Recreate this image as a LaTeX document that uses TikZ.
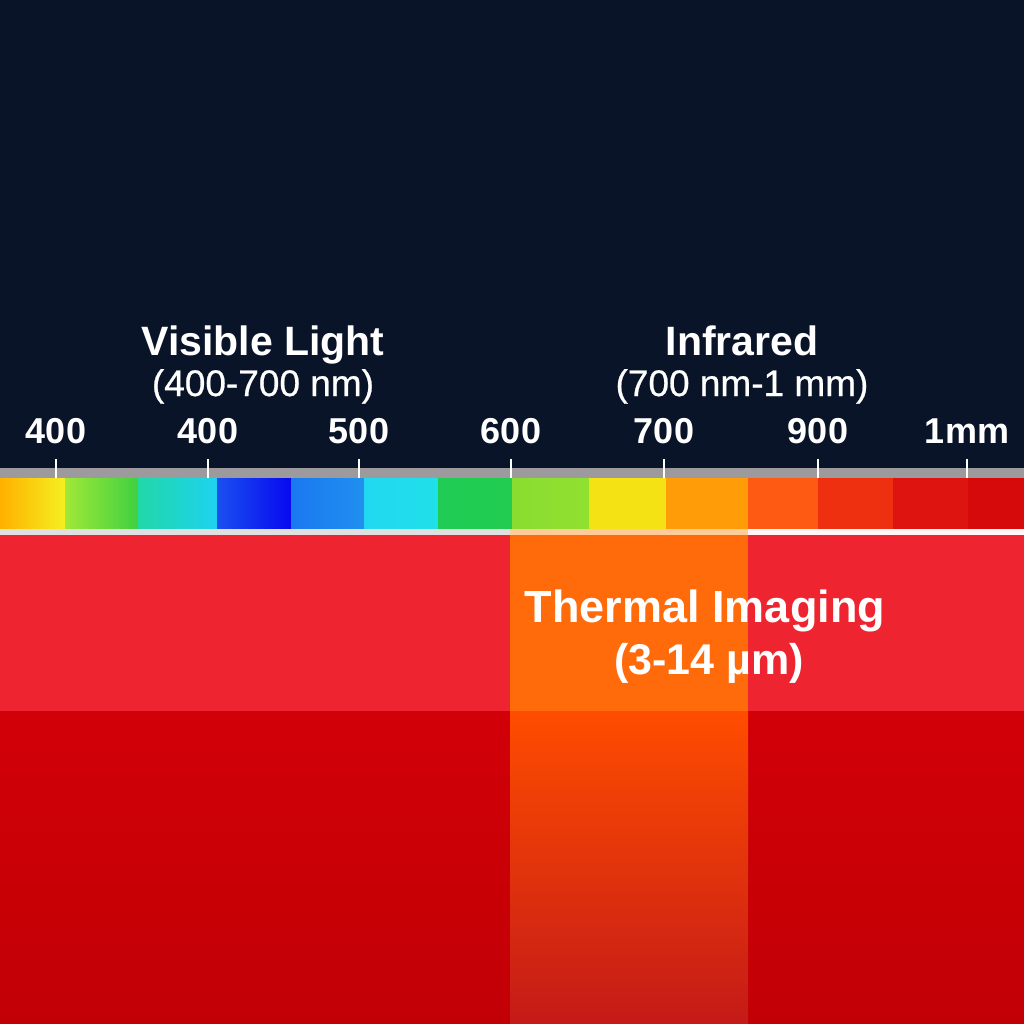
\documentclass[tikz,border=0pt]{standalone}
\usepackage{fontspec}
\setmainfont{Liberation Sans}
\newfontfamily\medfont{Liberation Sans}[FakeBold=0.7]
\definecolor{navy}{HTML}{0A1428}
\definecolor{railgray}{HTML}{9C9A9C}
\definecolor{bandred}{HTML}{EE2530}
\definecolor{deepred}{HTML}{D20008}
\definecolor{deepredlow}{HTML}{C10005}
\definecolor{thermorange}{HTML}{FF6A0A}
\definecolor{thermlow}{HTML}{C41A18}
\begin{document}
\begin{tikzpicture}[x=0.5pt,y=-0.5pt,
    ticklabel/.style={text=white,inner sep=0,font=\bfseries\fontsize{18}{20}\selectfont},
    bandtitle/.style={text=white,inner sep=0,anchor=base,font=\bfseries\fontsize{20.5}{24}\selectfont},
    bandsub/.style={text=white,inner sep=0,anchor=base,font=\medfont\fontsize{18.5}{22}\selectfont}]
    \useasboundingbox (0,0) rectangle (1024,1024);
    \fill[navy] (0,0) rectangle (1024,468);
    \fill[railgray] (0,468) rectangle (1024,478);
    % spectrum strip
    \foreach \xa/\xb/\ca/\cb in {0/65/FFB000/F4F020, 65/138/A0E838/40D040,
            138/217/20D8A8/1ED2F0, 217/291/1A50F0/0808F0, 291/364/1A78F0/2090F0,
            364/438/22D8F0/20E0E8, 438/512/20CC55/22CC50, 512/589/8ADD30/90E030,
            589/666/F5E215/F5E215, 666/748/FF9C08/FF9C08, 748/818/FF5A14/FF5A14,
            818/893/EE3010/EE3010, 893/968/DD1410/DD1410, 968/1024/D60A0A/D60A0A}{
        \definecolor{segL}{HTML}{\ca}
        \definecolor{segR}{HTML}{\cb}
        \shade[left color=segL,right color=segR] (\xa,478) rectangle (\xb,529);
    }
    \fill[black!12] (0,529) rectangle (510,535);
    \fill[orange!40] (510,529) rectangle (748,535);
    \fill[red!4] (748,529) rectangle (1024,535);
    % bands
    \fill[bandred] (0,535) rectangle (1024,711);
    \shade[top color=deepred,bottom color=deepredlow] (0,711) rectangle (1024,1024);
    \fill[thermorange] (510,535) rectangle (748,711);
    \shade[top color=orange!60!red,middle color=red!70!orange!85!gray,bottom color=thermlow]
        (510,711) rectangle (748,1024);
    % ticks and labels
    \foreach \x/\t [count=\i] in {56/400, 208/400, 359/500, 511/600, 664/700, 818/900, 967/1mm}{
        \node[ticklabel] (t\i) at (\x,431) {\t};
        \draw[white,line width=1.3pt] (\x,459) -- (\x,478);
    }
    \node[bandtitle] (vis) at (263,355) {Visible Light};
    \node[bandsub] (vissub) at (263,396) {(400-700 nm)};
    \node[bandtitle] (ir) at (742,355) {Infrared};
    \node[bandsub] (irsub) at (742,396) {(700 nm-1 mm)};
    \node[bandtitle,font=\bfseries\fontsize{22.5}{26}\selectfont] (therm) at (705,622) {Thermal Imaging};
    \node[bandtitle,font=\bfseries\fontsize{21.5}{26}\selectfont] (thermsub) at (709,674) {(3-14 µm)};
\end{tikzpicture}
\end{document}
